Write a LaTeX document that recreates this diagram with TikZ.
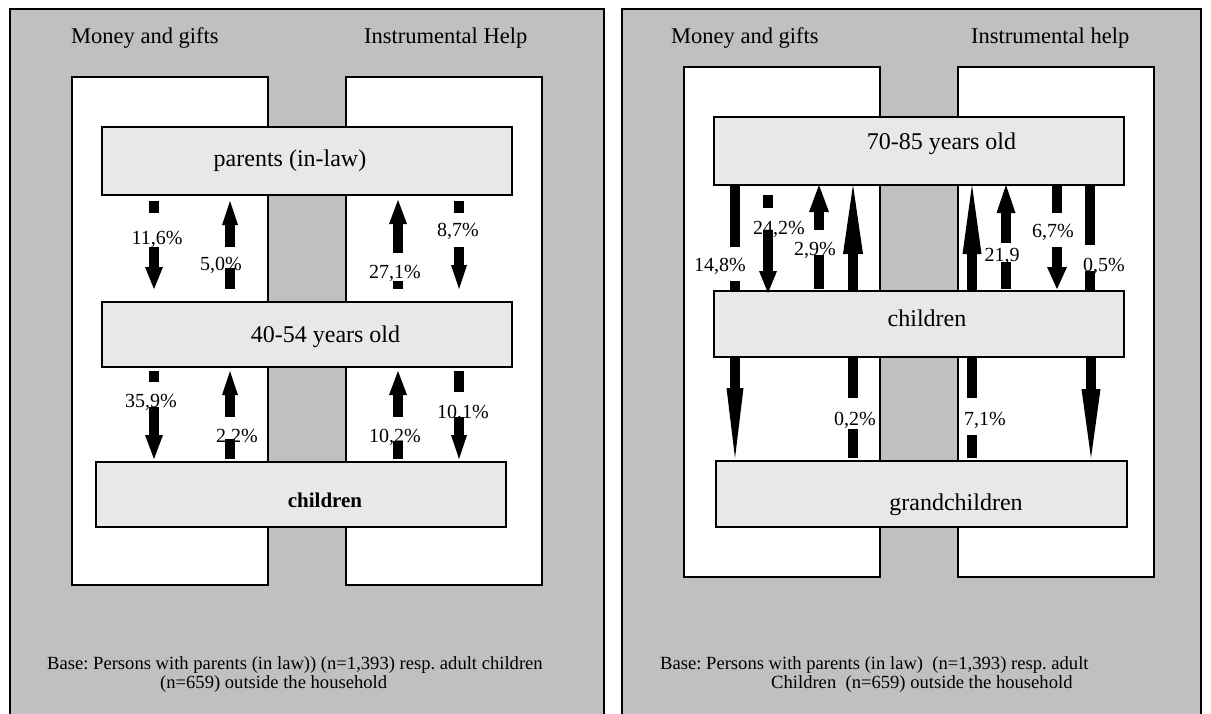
\documentclass[tikz,border=0pt]{standalone}
\usepackage{fontspec}
\setmainfont{Liberation Serif}
\frenchspacing
\definecolor{panelgray}{HTML}{C0C0C0}
\definecolor{boxgray}{HTML}{E8E8E8}
\tikzset{
  panel/.style={draw=black, line width=1.3pt, fill=panelgray},
  column/.style={draw=black, line width=1.3pt, fill=white},
  genbox/.style={draw=black, line width=1.3pt, fill=boxgray, anchor=north west, inner sep=0pt, outer sep=0pt},
  title/.style={font=\fontsize{22.5}{27}\selectfont, anchor=base west, inner sep=0pt},
  boxlabel/.style={font=\fontsize{24}{28}\selectfont, anchor=base, inner sep=0pt},
  pct/.style={font=\fontsize{20}{24}\selectfont, anchor=base, inner sep=0pt},
  basetext/.style={font=\fontsize{18.6}{21}\selectfont, anchor=base west, inner sep=0pt},
  flowfill/.style={fill=black},
}
% shaft segment: x, y1, y2
\newcommand\shaftseg[3]{\fill[flowfill] ({#1-5},#2) rectangle ({#1+5},#3);}
% arrow head: x, base y, tip y, half width
\newcommand\headtri[4]{\fill[flowfill] ({#1-#4},#2) -- ({#1+#4},#2) -- (#1,#3) -- cycle;}
\newcommand\genboxnode[5]{\node[genbox, minimum width=#4pt, minimum height=#5pt] (#1) at (#2,#3) {};}
\begin{document}
\begin{tikzpicture}[x=1pt,y=-1pt]
\useasboundingbox (0,0) rectangle (1211,713);
\clip (0,0) rectangle (1211,713);
% ---------- panels ----------
\draw[panel] (10,9) rectangle (604,730);
\draw[panel] (622,9) rectangle (1201,730);
% ---------- left panel ----------
\draw[column] (72,77) rectangle (268,585);
\draw[column] (346,77) rectangle (542,585);
\node[title] (lt1) at (71,43) {Money and gifts};
\node[title] (lt2) at (364,43) {Instrumental Help};
\genboxnode{lparents}{102}{127}{410}{68}
\genboxnode{lmid}{102}{302}{410}{65}
\genboxnode{lchild}{96}{462}{410}{65}
\node[boxlabel] (lparentsT) at (290,166) {parents (in-law)};
\node[boxlabel] (lmidT) at (325.5,342) {40-54 years old};
\node[boxlabel, font=\fontsize{21}{25}\selectfont\bfseries] (lchildT) at (325,507) {children};
% labels
\node[pct] (p116) at (157,244) {11,6\%};
\node[pct] (p50) at (221,270) {5,0\%};
\node[pct] (p271) at (395,278) {27,1\%};
\node[pct] (p87) at (458,236) {8,7\%};
\node[pct] (p359) at (151,407) {35,9\%};
\node[pct] (p22) at (237,442) {2,2\%};
\node[pct] (p102) at (395,442) {10,2\%};
\node[pct] (p101) at (463,418) {10,1\%};
% arrows top section
\shaftseg{154}{201}{213}\shaftseg{154}{247}{268}\headtri{154}{267}{289}{9}
\headtri{230}{225}{201}{8}\shaftseg{230}{224}{247}\shaftseg{230}{268}{289}
\headtri{398}{224}{200}{9}\shaftseg{398}{223}{253}\shaftseg{398}{281}{289}
\shaftseg{459}{201}{213}\shaftseg{459}{247}{266}\headtri{459}{265}{289}{8}
% arrows middle section
\shaftseg{154}{371}{382}\shaftseg{154}{407}{436}\headtri{154}{435}{459}{9}
\headtri{230}{395}{371}{8}\shaftseg{230}{394}{417}\shaftseg{230}{439}{459}
\headtri{398}{395}{371}{9}\shaftseg{398}{394}{417}\shaftseg{398}{441}{459}
\shaftseg{459}{371}{392}\shaftseg{459}{417}{436}\headtri{459}{435}{459}{8}
\node[basetext] (lb1) at (47,669) {Base: Persons with parents (in law)) (n=1,393) resp. adult children};
\node[basetext] (lb2) at (160,688) {(n=659) outside the household};
% ---------- right panel ----------
\draw[column] (684,67) rectangle (880,577);
\draw[column] (958,67) rectangle (1154,577);
\node[title] (rt1) at (671,43) {Money and gifts};
\node[title] (rt2) at (971,43) {Instrumental help};
\genboxnode{rold}{714}{117}{410}{68}
\genboxnode{rchild}{714}{291}{410}{66}
\genboxnode{rgrand}{716}{461}{411}{66}
\node[boxlabel] (roldT) at (941.5,149) {70-85 years old};
\node[boxlabel] (rchildT) at (927,326) {children};
\node[boxlabel] (rgrandT) at (956,510) {grandchildren};
% labels
\node[pct] (p148) at (720,271) {14,8\%};
\node[pct] (p242) at (779,234) {24,2\%};
\node[pct] (p29) at (815,255) {2,9\%};
\node[pct] (p219) at (1002,261) {21,9};
\node[pct] (p67) at (1053,237) {6,7\%};
\node[pct] (p05) at (1104,271) {0,5\%};
\node[pct] (p02) at (855,425) {0,2\%};
\node[pct] (p71) at (985,425) {7,1\%};
% arrows top section
\shaftseg{735}{185}{247}\shaftseg{735}{281}{291}
\shaftseg{768}{195}{208}\shaftseg{768}{230}{272}\headtri{768}{271}{293}{9}
\headtri{819}{212}{185}{10}\shaftseg{819}{211}{230}\shaftseg{819}{255}{289}
\headtri{853}{254}{185}{10}\shaftseg{853}{253}{291}
\headtri{972}{254}{185}{9.5}\shaftseg{972}{253}{291}
\headtri{1006}{213}{185}{9.5}\shaftseg{1006}{212}{243}\shaftseg{1006}{262}{289}
\shaftseg{1057}{185}{213}\shaftseg{1057}{247}{268}\headtri{1057}{267}{289}{10}
\shaftseg{1090}{185}{245}\shaftseg{1090}{271}{291}
% arrows lower section
\shaftseg{735}{357}{389}\headtri{735}{388}{458}{8.5}
\shaftseg{853}{357}{398}\shaftseg{853}{429}{458}
\shaftseg{972}{357}{398}\shaftseg{972}{435}{458}
\shaftseg{1091}{357}{390}\headtri{1091}{389}{458}{9.5}
\node[basetext] (rb1) at (660,669) {Base: Persons with parents (in law)\ \ (n=1,393) resp. adult};
\node[basetext] (rb2) at (771,688) {Children\ \ (n=659) outside the household};
\end{tikzpicture}
\end{document}
